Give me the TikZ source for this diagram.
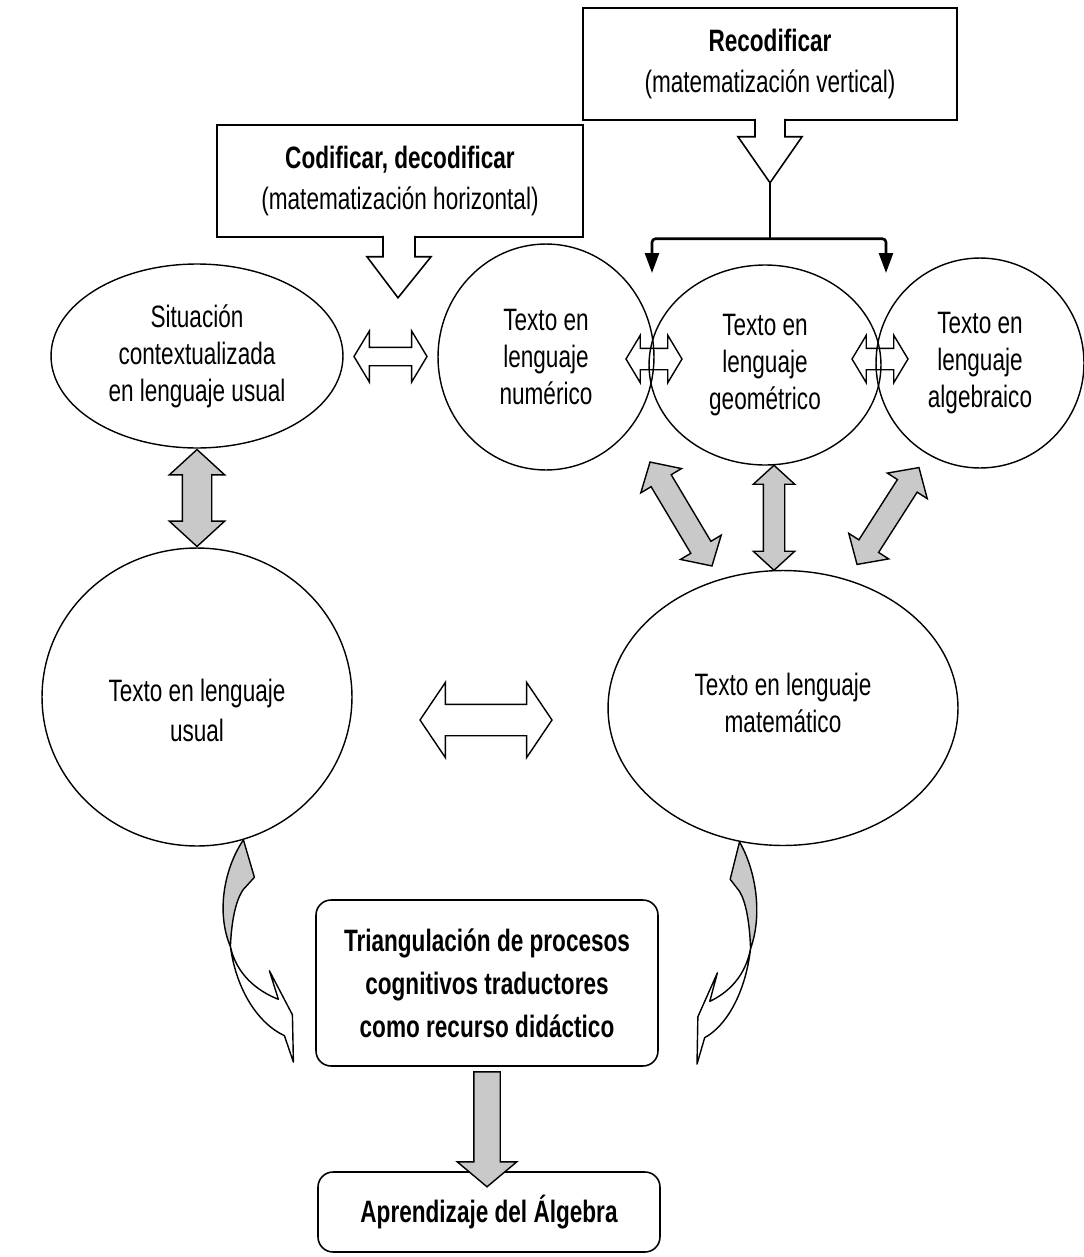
\documentclass[tikz,border=0pt]{standalone}
\usepackage{fontspec}
\setmainfont{Liberation Sans}[FakeStretch=0.73]
\usetikzlibrary{shapes.geometric,shapes.arrows,arrows.meta,calc}

\begin{document}
\begin{tikzpicture}[x=0.02cm,y=-0.02cm,
    every node/.style={font=\fontsize{17.6}{21}\selectfont},
    bubble/.style={draw,ellipse,line width=0.8pt,align=center,inner sep=0pt},
    callbox/.style={draw,rectangle,line width=0.9pt,align=center,font=\fontsize{17.6}{23}\selectfont},
    endbox/.style={draw,rounded corners=0.3cm,line width=0.9pt,align=center,font=\fontsize{17.6}{24.5}\selectfont\bfseries},
    pointer/.style={draw,fill=white,line width=0.9pt},
    fork/.style={line width=1.5pt,rounded corners=2pt},
    grayarrow/.style={double arrow,draw,fill=gray!42,line width=0.8pt,double arrow tip angle=95},
    whitearrow/.style={double arrow,draw,line width=0.8pt,double arrow tip angle=118},
    backside/.style={draw,fill=gray!42,line width=0.8pt,line join=round},
    frontside/.style={draw,fill=white,line width=0.8pt,line join=round}]
  \useasboundingbox (0,0) rectangle (1083,1257);

  \node[callbox,minimum width=7.32cm,minimum height=2.24cm] (codif) at (400,181)
    {\textbf{Codificar, decodificar}\\(matematización horizontal)};
  \node[callbox,minimum width=7.48cm,minimum height=2.24cm] (recod) at (770,64)
    {\textbf{Recodificar}\\(matematización vertical)};

  \node[bubble,minimum width=5.84cm,minimum height=3.68cm] (sit) at (197,356) {Situación\\contextualizada\\en lenguaje usual};
  \node[bubble,minimum width=4.32cm,minimum height=4.52cm] (num) at (546,357) {Texto en\\lenguaje\\numérico};
  \node[bubble,minimum width=4.64cm,minimum height=4.0cm] (geo) at (765,365) {Texto en\\lenguaje\\geométrico};
  \node[bubble,minimum width=4.16cm,minimum height=4.2cm] (alg) at (980,363) {Texto en\\lenguaje\\algebraico};
  \node[bubble,minimum width=6.2cm,minimum height=5.96cm] (usual) at (197,697) {\rule{0pt}{28pt}Texto en lenguaje\\[2pt]usual};
  \node[bubble,minimum width=7.0cm,minimum height=5.5cm] (mat) at (783,708) {Texto en lenguaje\\matemático\rule[-6pt]{0pt}{0pt}};

  \node[endbox,minimum width=6.84cm,minimum height=3.32cm] (trian) at (487,983)
    {Triangulación de procesos\\cognitivos traductores\\como recurso didáctico};
  \node[endbox,minimum width=6.84cm,minimum height=1.6cm] (aprend) at (489,1212) {Aprendizaje del Álgebra};

  \draw[pointer] ($(codif.south)+(-17,-2)$) -- ++(0,21) -- ++(-16,0) -- ($(codif.south)+(-2,60)$)
    -- ($(codif.south)+(31,19)$) -- ++(-16,0) -- ++(0,-21);
  \draw[pointer] ($(recod.south)+(-15,-2)$) -- ++(0,18) -- ++(-17,0) -- ($(recod.south)+(0,62)$) coordinate (rtip)
    -- ($(recod.south)+(32,16)$) -- ++(-17,0) -- ++(0,-18);

  \coordinate (fork) at ($(rtip)+(0,56)$);
  \coordinate (lhit) at (652,273);
  \coordinate (rhit) at (886,273);
  \draw[fork] (rtip) -- (fork);
  \draw[fork,-{Triangle[width=0.28cm,length=0.4cm]}] (fork) -| (lhit);
  \draw[fork,-{Triangle[width=0.28cm,length=0.4cm]}] (fork) -| (rhit);

  \node[whitearrow,minimum height=1.46cm,inner sep=0.17cm,double arrow head extend=0.33cm,minimum width=1.0cm]
    (sitnum) at ($(sit.east)!.5!(num.west)$) {};
  \foreach \x in {654,880}
    \node[whitearrow,minimum height=1.12cm,inner sep=0.2cm,double arrow head extend=0.26cm,minimum width=0.92cm]
      (sm\x) at (\x,359) {};
  \node[whitearrow,double arrow tip angle=112,minimum height=2.64cm,inner sep=0.3cm,double arrow head extend=0.44cm,minimum width=1.48cm]
    (usmat) at (486,720) {};

  \node[grayarrow,rotate=90,minimum height=1.94cm,inner sep=0.28cm,double arrow head extend=0.26cm,minimum width=1.08cm]
    (situs) at ($(sit.south)!.5!(usual.north)$) {};
  \node[grayarrow,rotate=90,minimum height=2.1cm,inner sep=0.2cm,double arrow head extend=0.2cm,minimum width=0.8cm]
    (geomat) at ($(geo.south)!.5!(mat.north)$) {};
  \node[grayarrow,rotate=120.8,minimum height=2.42cm,inner sep=0.22cm,double arrow head extend=0.24cm,minimum width=0.92cm]
    (nummat) at (681,514) {};
  \node[grayarrow,rotate=57.4,minimum height=2.3cm,inner sep=0.22cm,double arrow head extend=0.24cm,minimum width=0.92cm]
    (algmat) at (888,516) {};

  \begin{scope}[shift={(usual.-72)},yscale=1.1]
    \draw[backside] (0,0) .. controls (-20,27) and (-27,67) .. (-13,97) .. controls (-12,75) and (-8,55) .. (0,45) -- (11,34) -- cycle;
    \draw[frontside] (-13,97) .. controls (-7,137) and (15,167) .. (41,178) -- (50,202) -- (49,159) -- (26,119) -- (35,145)
      .. controls (13,137) and (-7,122) .. cycle;
  \end{scope}
  \begin{scope}[shift={(mat.-108)},xscale=-0.85,yscale=1.1]
    \draw[backside] (0,0) .. controls (-20,27) and (-27,67) .. (-13,97) .. controls (-12,75) and (-8,55) .. (0,45) -- (11,34) -- cycle;
    \draw[frontside] (-13,97) .. controls (-7,137) and (15,167) .. (41,178) -- (50,202) -- (49,159) -- (26,119) -- (35,145)
      .. controls (13,137) and (-7,122) .. cycle;
  \end{scope}

  \node[single arrow,draw,fill=gray!42,line width=0.8pt,single arrow tip angle=100,rotate=-90,
    minimum height=2.3cm,inner sep=0.25cm,single arrow head extend=0.33cm,minimum width=1.16cm]
    (trianapr) at ($(trian.south)+(0,57)$) {};
\end{tikzpicture}
\end{document}
